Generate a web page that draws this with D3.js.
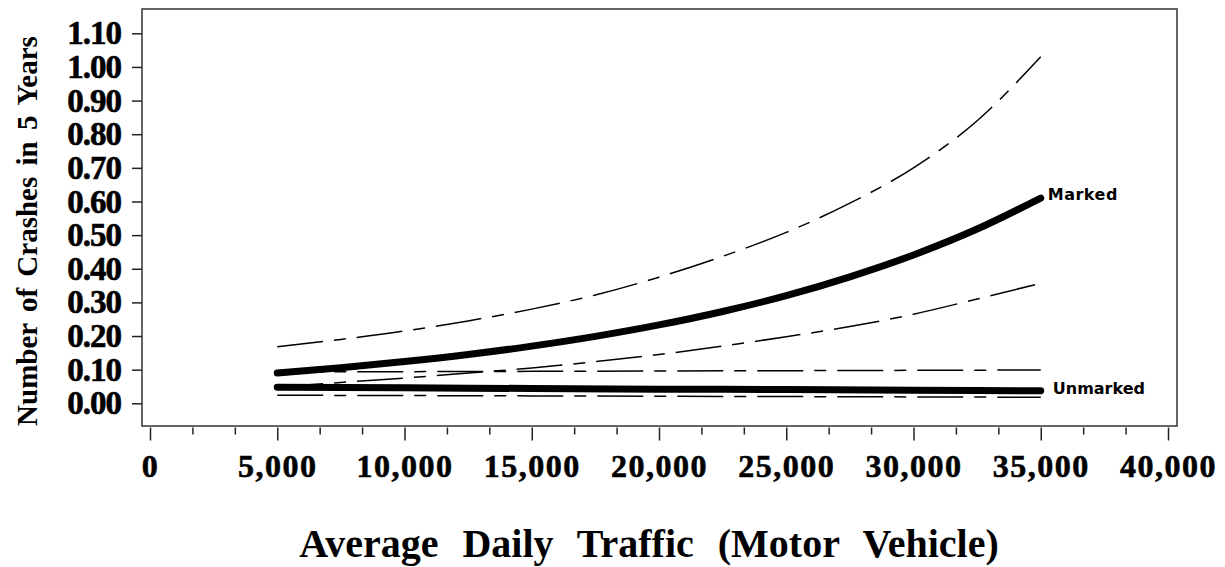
<!DOCTYPE html>
<html>
<head>
<meta charset="utf-8">
<script src="https://cdn.jsdelivr.net/npm/d3@7"></script>
<style>
  body { margin: 0; background: #fff; }
  svg { display: block; }
</style>
</head>
<body>
<div id="chart"></div>
<script>
// Data
const adtFine = [5000, 7500, 10000, 12500, 15000, 17500, 20000, 22500, 25000, 27500, 30000, 32500, 35000];
const markedFit   = [0.090, 0.106, 0.124, 0.145, 0.170, 0.199, 0.233, 0.273, 0.320, 0.376, 0.441, 0.518, 0.610];
const markedUpper = [0.168, 0.190, 0.215, 0.245, 0.280, 0.322, 0.375, 0.437, 0.508, 0.595, 0.700, 0.840, 1.030];
const markedLower = [0.048, 0.062, 0.075, 0.090, 0.105, 0.124, 0.145, 0.170, 0.198, 0.228, 0.265, 0.310, 0.357];

const adtCoarse = [5000, 10000, 15000, 20000, 25000, 30000, 35000];
const unmarkedFit   = [0.048, 0.046, 0.044, 0.042, 0.041, 0.039, 0.037];
const unmarkedUpper = [0.093, 0.094, 0.095, 0.096, 0.097, 0.098, 0.099];
const unmarkedLower = [0.024, 0.023, 0.022, 0.021, 0.020, 0.019, 0.018];

const yTicks = [0, 0.1, 0.2, 0.3, 0.4, 0.5, 0.6, 0.7, 0.8, 0.9, 1.0, 1.1];
const xTicks = [0, 5000, 10000, 15000, 20000, 25000, 30000, 35000, 40000];

const yTitle = "Number of Crashes in 5 Years";
const xTitle = "Average Daily Traffic (Motor Vehicle)";

// Layout
const width = 1225, height = 567;
const frame = { left: 142, top: 9, right: 1177, bottom: 426 };

const svg = d3.select("#chart")
  .append("svg")
  .attr("width", width)
  .attr("height", height);

const x = d3.scaleLinear().domain([0, 40000]).range([150, 1168]);
const y = d3.scaleLinear().domain([0, 1.1]).range([403.3, 33.3]);

// Frame
svg.append("rect")
  .attr("x", frame.left)
  .attr("y", frame.top)
  .attr("width", frame.right - frame.left)
  .attr("height", frame.bottom - frame.top)
  .attr("fill", "none")
  .attr("stroke", "#333")
  .attr("stroke-width", 1.5);

const serif = "'Liberation Serif', 'Times New Roman', serif";

// Y axis
const yAxis = svg.append("g")
  .attr("transform", `translate(${frame.left},0)`)
  .call(d3.axisLeft(y).tickValues(yTicks).tickFormat(d3.format(".2f")).tickSize(10).tickPadding(11));
yAxis.select(".domain").remove();
yAxis.selectAll(".tick line").attr("stroke", "#222").attr("stroke-width", 1.5);
yAxis.selectAll("text")
  .attr("font-family", serif)
  .attr("font-weight", "bold")
  .attr("font-size", 33)
  .attr("letter-spacing", -1)
  .attr("stroke", "#000")
  .attr("stroke-width", 0.6)
  .attr("fill", "#000");

// X axis: major ticks and minor ticks
const xAxisY = frame.bottom + 1.5;
const minorTicks = d3.range(0, 40001, 5000 / 3).filter(v => Math.abs(v % 5000) > 1 && Math.abs(v % 5000 - 5000) > 1);
const xMinor = svg.append("g")
  .attr("transform", `translate(0,${xAxisY})`)
  .call(d3.axisBottom(x).tickValues(minorTicks).tickFormat("").tickSize(7));
xMinor.select(".domain").remove();
xMinor.selectAll(".tick line").attr("stroke", "#222").attr("stroke-width", 1.5);

const xAxis = svg.append("g")
  .attr("transform", `translate(0,${xAxisY})`)
  .call(d3.axisBottom(x).tickValues(xTicks).tickFormat(d3.format(",")).tickSize(13).tickPadding(14));
xAxis.select(".domain").remove();
xAxis.selectAll(".tick line").attr("stroke", "#222").attr("stroke-width", 1.5);
xAxis.selectAll("text")
  .attr("font-family", serif)
  .attr("font-weight", "bold")
  .attr("font-size", 32)
  .attr("letter-spacing", 1.5)
  .attr("stroke", "#000")
  .attr("stroke-width", 0.6)
  .attr("fill", "#000");

// Axis titles
svg.append("text")
  .attr("x", 649)
  .attr("y", 557)
  .attr("text-anchor", "middle")
  .attr("font-family", serif)
  .attr("font-weight", "bold")
  .attr("font-size", 40)
  .attr("word-spacing", 14)
  .text(xTitle);

svg.append("text")
  .attr("transform", "translate(37,231) rotate(-90)")
  .attr("text-anchor", "middle")
  .attr("font-family", serif)
  .attr("font-weight", "bold")
  .attr("font-size", 29)
  .attr("word-spacing", 4)
  .text(yTitle);

// Curves
const line = (xs) => d3.line()
  .x((d, i) => x(xs[i]))
  .y(d => y(d))
  .curve(d3.curveMonotoneX);

const dash = "46,11,12,11";

function drawSeries(xs, values, thick) {
  svg.append("path")
    .datum(values)
    .attr("d", line(xs))
    .attr("fill", "none")
    .attr("stroke", "#000")
    .attr("stroke-width", thick ? 7 : 1.5)
    .attr("stroke-linecap", thick ? "round" : "butt")
    .attr("stroke-dasharray", thick ? null : dash);
}

drawSeries(adtFine, markedUpper, false);
drawSeries(adtFine, markedLower, false);
drawSeries(adtCoarse, unmarkedUpper, false);
drawSeries(adtCoarse, unmarkedLower, false);
drawSeries(adtFine, markedFit, true);
drawSeries(adtCoarse, unmarkedFit, true);

// Series labels
const sans = "'DejaVu Sans', sans-serif";
svg.append("text")
  .attr("x", x(35000) + 7)
  .attr("y", y(markedFit[markedFit.length - 1]) - 4)
  .attr("dy", "0.35em")
  .attr("font-family", sans)
  .attr("font-weight", "bold")
  .attr("font-size", 16)
  .attr("letter-spacing", 0.5)
  .text("Marked");

svg.append("text")
  .attr("x", x(35000) + 12)
  .attr("y", y(unmarkedFit[unmarkedFit.length - 1]) - 2)
  .attr("dy", "0.35em")
  .attr("font-family", sans)
  .attr("font-weight", "bold")
  .attr("font-size", 16)
  .text("Unmarked");
</script>
</body>
</html>
